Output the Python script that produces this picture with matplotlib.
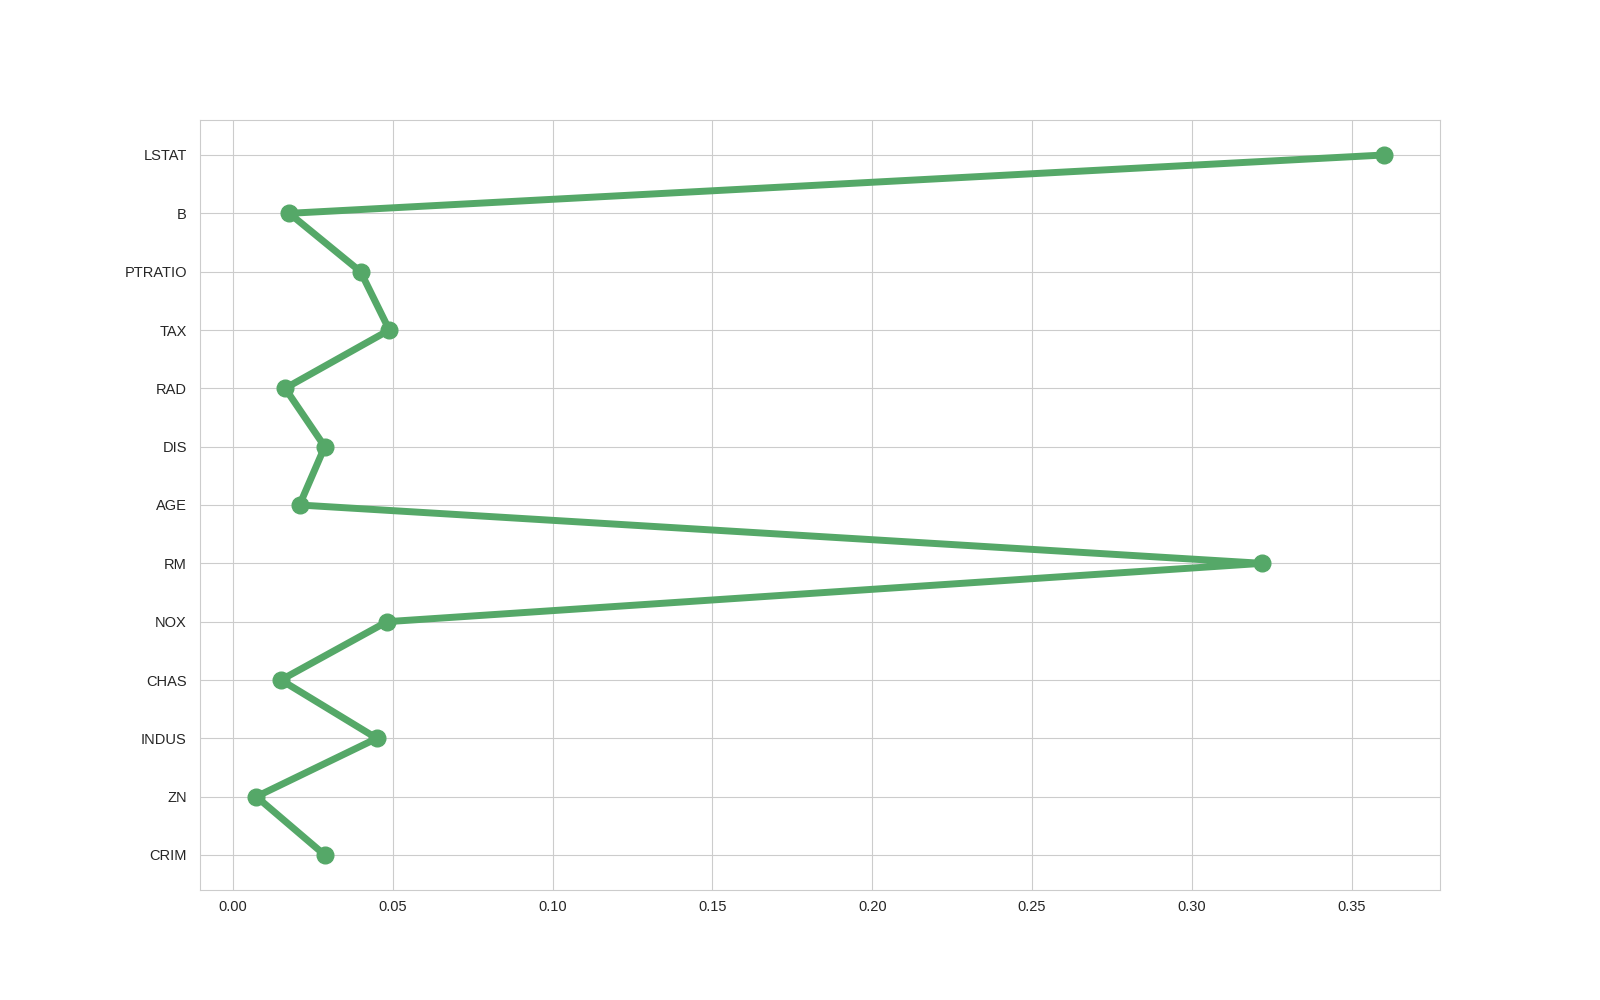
import matplotlib
matplotlib.use("Agg")
import matplotlib.pyplot as plt
import seaborn as sns

features = ["CRIM", "ZN", "INDUS", "CHAS", "NOX", "RM", "AGE",
            "DIS", "RAD", "TAX", "PTRATIO", "B", "LSTAT"]
importances = [0.0287, 0.0073, 0.0450, 0.0150, 0.0482, 0.3220, 0.0208,
               0.0287, 0.0163, 0.0489, 0.0399, 0.0176, 0.3600]

sns.set_style("whitegrid")
plt.rcParams['font.family'] = ['Liberation Sans', 'DejaVu Sans']
plt.rcParams['xtick.labelsize'] = 10.5
plt.rcParams['ytick.labelsize'] = 10.5
plt.rcParams['ytick.major.pad'] = 6

fig = plt.figure(figsize=(16, 10), dpi=100)
plt.plot(importances, features, color="#55a868", marker="o",
         linewidth=5, markersize=12)
plt.savefig("out.png")
